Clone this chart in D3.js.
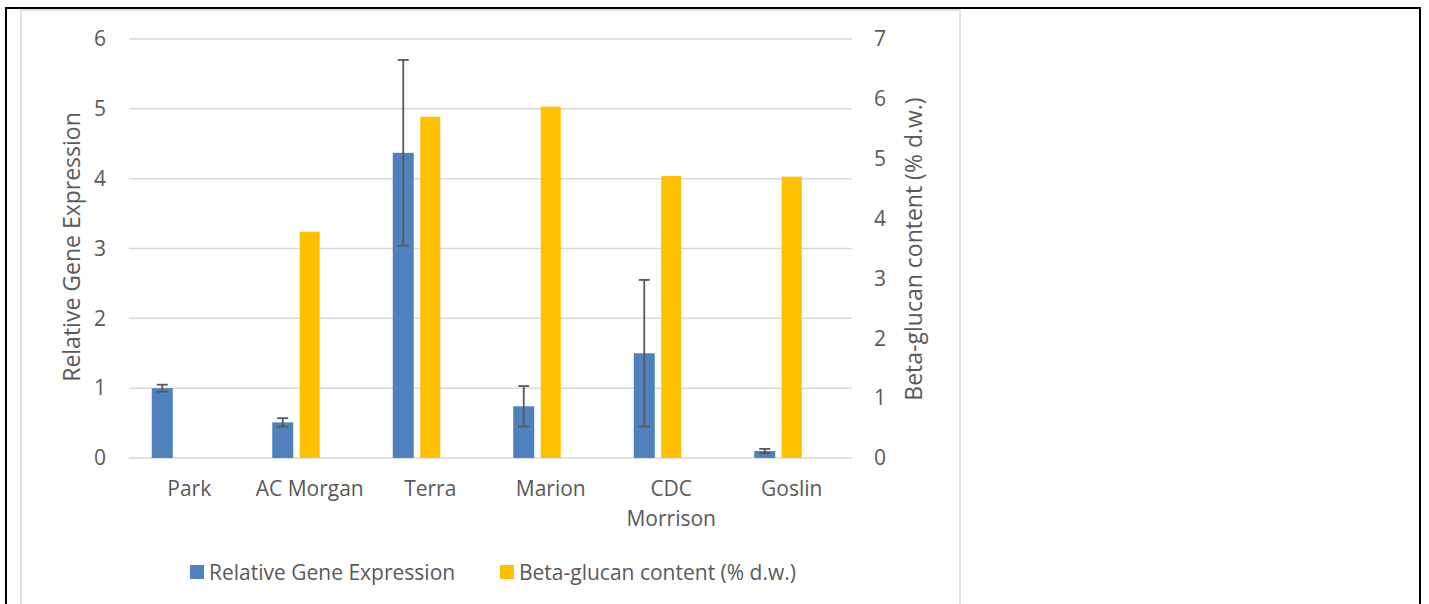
<!DOCTYPE html>
<html><head><meta charset="utf-8">
<script src="https://cdn.jsdelivr.net/npm/d3@7"></script>
<style>body{margin:0;background:#fff}svg{display:block}</style>
</head><body><svg id="c" width="1429" height="604"></svg>
<script>
const categories = ["Park", "AC Morgan", "Terra", "Marion", "CDC Morrison", "Goslin"];
const geneExpression = [1.00, 0.51, 4.37, 0.74, 1.50, 0.10];
const geneError = [0.05, 0.06, 1.33, 0.29, 1.05, 0.03];
const betaGlucan = [null, 3.78, 5.70, 5.87, 4.71, 4.70];
const leftTicks = [0, 1, 2, 3, 4, 5, 6];
const rightTicks = [0, 1, 2, 3, 4, 5, 6, 7];
const seriesNames = ["Relative Gene Expression", "Beta-glucan content (% d.w.)"];
const colors = ["#4F81BD", "#FFC000"];

const svg = d3.select("#c");
const font = "'Open Sans', sans-serif";
const txt = "#595959";
const fs = 21, tfs = 23;

// frame
svg.append("line").attr("x1",6).attr("x2",1421).attr("y1",8).attr("y2",8).attr("stroke","#000").attr("stroke-width",2);
svg.append("line").attr("x1",6).attr("x2",6).attr("y1",7).attr("y2",604).attr("stroke","#000").attr("stroke-width",2);
svg.append("line").attr("x1",1420).attr("x2",1420).attr("y1",7).attr("y2",604).attr("stroke","#000").attr("stroke-width",2);
svg.append("rect").attr("x",21).attr("y",10).attr("width",939).attr("height",610).attr("fill","none").attr("stroke","#d9d9d9").attr("stroke-width",1.5);

const x0 = 129, x1 = 852, yTop = 39, yBot = 458;
const x = d3.scaleBand().domain(categories).range([x0, x1]);
const yL = d3.scaleLinear().domain([0, 6]).range([yBot, yTop]);
const yR = d3.scaleLinear().domain([0, 7]).range([yBot, yTop]);

// gridlines
svg.append("g").selectAll("line").data(leftTicks).join("line")
  .attr("x1", x0).attr("x2", x1).attr("y1", d => yL(d)).attr("y2", d => yL(d))
  .attr("stroke", "#d9d9d9").attr("stroke-width", 1.5);

// axes labels
const axL = svg.append("g").attr("transform", `translate(106,0)`)
  .call(d3.axisLeft(yL).tickValues(leftTicks).tickSize(0).tickPadding(0).tickFormat(d3.format("d")));
axL.select(".domain").remove();
axL.selectAll("text").attr("font-family", font).attr("font-size", fs).attr("fill", txt);

const axR = svg.append("g").attr("transform", `translate(874,0)`)
  .call(d3.axisRight(yR).tickValues(rightTicks).tickSize(0).tickPadding(0).tickFormat(d3.format("d")));
axR.select(".domain").remove();
axR.selectAll("text").attr("font-family", font).attr("font-size", fs).attr("fill", txt);

// bars
const bw = 21, offset = 27;
svg.append("g").selectAll("rect").data(categories).join("rect")
  .attr("x", (c) => x(c) + x.bandwidth()/2 - offset - bw/2)
  .attr("width", bw)
  .attr("y", (c,i) => yL(geneExpression[i]))
  .attr("height", (c,i) => yBot - yL(geneExpression[i]))
  .attr("fill", colors[0]);
svg.append("g").selectAll("rect").data(categories.filter((c,i)=>betaGlucan[i]!=null)).join("rect")
  .attr("x", (c) => x(c) + x.bandwidth()/2 - 10)
  .attr("width", 20)
  .attr("y", (c) => yR(betaGlucan[categories.indexOf(c)]))
  .attr("height", (c) => yBot - yR(betaGlucan[categories.indexOf(c)]))
  .attr("fill", colors[1]);

// error bars
const eg = svg.append("g").attr("stroke", "#595959").attr("stroke-width", 1.8);
categories.forEach((c, i) => {
  const cx = x(c) + x.bandwidth()/2 - offset;
  const lo = yL(geneExpression[i] - geneError[i]), hi = yL(geneExpression[i] + geneError[i]);
  eg.append("line").attr("x1", cx).attr("x2", cx).attr("y1", lo).attr("y2", hi);
  eg.append("line").attr("x1", cx-5.5).attr("x2", cx+5.5).attr("y1", lo).attr("y2", lo);
  eg.append("line").attr("x1", cx-5.5).attr("x2", cx+5.5).attr("y1", hi).attr("y2", hi);
});

// x labels
const xl = svg.append("g");
categories.forEach(c => {
  const words = c === "CDC Morrison" ? ["CDC", "Morrison"] : [c];
  const t = xl.append("text").attr("x", x(c) + x.bandwidth()/2).attr("y", 496)
    .attr("text-anchor", "middle").attr("font-family", font).attr("font-size", fs).attr("fill", txt);
  words.forEach((w, k) => t.append("tspan").attr("x", x(c) + x.bandwidth()/2).attr("dy", k ? 30 : 0).text(w));
});

// axis titles
svg.append("text").attr("transform", "translate(80,247) rotate(-90)").attr("text-anchor", "middle")
  .attr("font-family", font).attr("font-size", tfs).attr("fill", txt).text("Relative Gene Expression");
svg.append("text").attr("transform", "translate(922,249) rotate(-90)").attr("text-anchor", "middle")
  .attr("font-family", font).attr("font-size", tfs).attr("fill", txt).text("Beta-glucan content (% d.w.)");

// legend
const legX = [190, 500];
seriesNames.forEach((s, i) => {
  svg.append("rect").attr("x", legX[i]).attr("y", 565).attr("width", 14).attr("height", 14).attr("fill", colors[i]);
  svg.append("text").attr("x", legX[i] + 19).attr("y", 580).attr("font-family", font).attr("font-size", fs)
    .attr("fill", txt).text(s);
});
</script></body></html>
